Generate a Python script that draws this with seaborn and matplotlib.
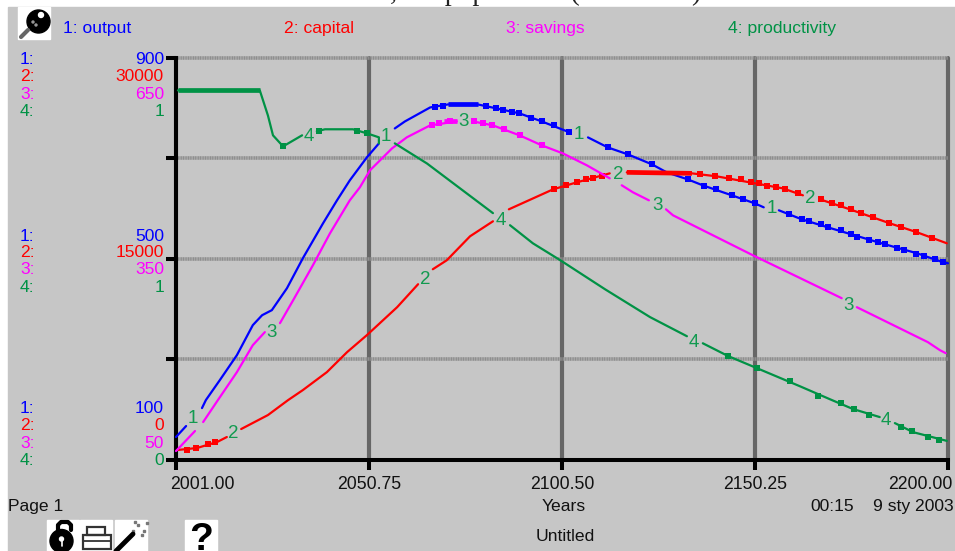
import pandas as pd
import seaborn as sns
import matplotlib.pyplot as plt
import matplotlib.transforms as mtrans
from matplotlib.patches import Rectangle, Ellipse

sns.set_theme(style="white")
plt.rcParams['font.family'] = ['Liberation Sans', 'DejaVu Sans']

# each curve is broken where a number label sits on it, so one list per piece
output_years = [[2001.0, 2003.6],
                [2007.7, 2008.7, 2012.3, 2016.7, 2020.8, 2023.2, 2025.7, 2029.6, 2033.7, 2038.9, 2042.5, 2045.8, 2050.2, 2053.3],
                [2057.4, 2060.0, 2066.5, 2071.1, 2078.8, 2083.7, 2089.6, 2095.3, 2102.5],
                [2107.2, 2112.3, 2117.5, 2123.7, 2127.5, 2132.9, 2136.8, 2144.3, 2150.2, 2152.5],
                [2156.4, 2162.3, 2169.0, 2176.8, 2183.7, 2192.0, 2198.7, 2200.0]]
output_vals = [[145.7, 167.5],
               [203.2, 219.1, 258.8, 308.4, 368.0, 387.8, 397.8, 441.4, 501.0, 570.4, 616.1, 655.8, 701.5, 729.2],
               [759.0, 772.9, 800.7, 806.7, 806.7, 798.7, 788.8, 772.9, 751.1],
               [741.2, 721.3, 707.4, 687.6, 671.7, 657.8, 645.9, 626.0, 610.1, 602.2],
               [596.3, 578.4, 562.5, 544.6, 528.8, 510.9, 493.0, 491.0]]

savings_years = [[2001.0, 2005.9],
                 [2008.0, 2011.8, 2016.7, 2020.8, 2023.9],
                 [2027.8, 2031.2, 2036.3, 2040.7, 2045.8, 2048.4, 2051.0, 2056.7, 2060.5, 2066.5, 2073.4],
                 [2077.5, 2082.7, 2089.6, 2095.3, 2100.7, 2106.9, 2112.8],
                 [2115.9, 2118.8, 2122.9],
                 [2127.3, 2129.1, 2149.7, 2172.6],
                 [2176.5, 2194.8, 2197.9, 2199.4]]
savings_vals = [[63.4, 93.2],
                [106.6, 139.3, 181.0, 221.2, 240.6],
                [254.0, 288.2, 340.4, 388.0, 437.1, 456.5, 481.8, 514.6, 531.0, 548.8, 554.8],
                [554.8, 548.8, 533.9, 519.0, 507.1, 489.3, 469.9],
                [459.5, 449.0, 437.1],
                [423.7, 414.8, 355.2, 291.2],
                [277.8, 225.7, 213.8, 209.3]]

capital_years = [[2001.3, 2006.4, 2011.6, 2014.1],
                 [2017.8, 2024.7, 2029.9, 2033.7, 2039.9, 2045.1, 2050.2, 2058.0, 2063.4],
                 [2067.2, 2070.8, 2076.8, 2082.7],
                 [2086.8, 2098.2, 2104.3, 2112.8],
                 [2117.2, 2134.0, 2140.4, 2148.9, 2157.4, 2162.6],
                 [2167.0, 2174.7, 2185.0, 2192.0, 2199.7]]
capital_vals = [[744, 893, 1340, 1712],
                [2308, 3350, 4466, 5211, 6551, 8040, 9305, 11389, 13101],
                [14218, 14888, 16675, 17791],
                [18684, 20173, 20694, 21364],
                [21439, 21364, 21141, 20694, 20248, 19727],
                [19429, 18684, 17642, 16972, 16153]]

productivity_years = [[2001.5, 2022.6, 2024.7, 2026.0, 2028.6, 2033.5],
                      [2037.3, 2039.4, 2046.6, 2050.2, 2053.3, 2053.3],
                      [2057.4, 2065.7, 2074.2, 2082.7],
                      [2087.1, 2093.0, 2100.0, 2111.6, 2123.2, 2132.7],
                      [2136.8, 2143.3, 2150.7, 2161.8, 2170.0, 2175.5, 2182.4],
                      [2186.3, 2191.0, 2199.7]]
productivity_vals = [[1.102, 1.102, 1.027, 0.968, 0.935, 0.968],
                     [0.980, 0.986, 0.986, 0.974, 0.962, 0.944],
                     [0.944, 0.884, 0.810, 0.736],
                     [0.700, 0.646, 0.596, 0.509, 0.426, 0.369],
                     [0.348, 0.310, 0.274, 0.220, 0.179, 0.152, 0.128],
                     [0.110, 0.083, 0.057]]

# the little square blobs on the curves
output_sq_years = [2067.7, 2069.8, 2080.9, 2083.5, 2085.3, 2087.6, 2089.4, 2092.5, 2095.3, 2098.4, 2102.3, 2112.3, 2117.5,
                   2123.7, 2132.9, 2137.1, 2140.2, 2144.3, 2147.1, 2150.2, 2159.0, 2162.3, 2164.1, 2167.2, 2169.0, 2172.4,
                   2174.9, 2176.5, 2179.6, 2181.9, 2183.7, 2186.8, 2188.6, 2191.7, 2193.8, 2196.6, 2198.7]
output_sq_vals = [800.7, 802.7, 802.7, 798.7, 794.8, 790.8, 788.8, 778.9, 772.9, 765.0, 751.1, 721.3, 707.4,
                  687.6, 657.8, 643.9, 637.9, 626.0, 618.1, 610.1, 588.3, 578.4, 574.4, 568.5, 562.5, 556.6,
                  548.6, 542.7, 536.7, 532.7, 528.8, 520.8, 516.9, 508.9, 504.9, 499.0, 493.0]
capital_sq_years = [2003.8, 2006.2, 2009.2, 2011.1, 2098.4, 2101.5, 2104.3, 2106.7, 2108.5, 2110.8, 2136.0, 2139.9, 2143.5,
                    2146.6, 2149.2, 2151.2, 2153.3, 2155.6, 2157.9, 2161.3, 2167.2, 2170.0, 2172.4, 2174.9, 2177.5, 2180.6,
                    2184.7, 2187.8, 2191.7, 2195.8]
capital_sq_vals = [744, 893, 1191, 1340, 20173, 20471, 20694, 20918, 20992, 21141, 21290, 21141, 20992,
                   20918, 20694, 20620, 20397, 20322, 20173, 19876, 19429, 19131, 18982, 18684, 18387, 18089,
                   17642, 17345, 16972, 16526]
savings_sq_years = [2067.0, 2068.8, 2071.6, 2077.8, 2080.1, 2082.4, 2085.5, 2089.6, 2095.3]
savings_sq_vals = [548.8, 551.8, 554.8, 554.8, 551.8, 548.8, 542.9, 533.9, 519.0]
productivity_sq_years = [2028.6, 2037.9, 2047.6, 2050.2, 2143.3, 2150.7, 2159.2, 2166.4, 2172.4, 2175.7, 2179.6, 2187.8,
                         2190.7, 2194.8, 2197.6]
productivity_sq_vals = [0.935, 0.980, 0.980, 0.974, 0.310, 0.274, 0.235, 0.191, 0.170, 0.152, 0.134, 0.098,
                        0.086, 0.068, 0.060]

# flat stretches that come out thick in the original
output_thick = ([2071.1, 2078.8], [806.7, 806.7])
capital_thick = ([2117.2, 2134.0], [21439, 21364])
savings_thick = ([2070.0, 2073.4], [554.8, 554.8])
productivity_thick = ([2001.5, 2022.6], [1.102, 1.102])

x_ticks = [2001.00, 2050.75, 2100.50, 2150.25, 2200.00]
x_labels = ['2001.00', '2050.75', '2100.50', '2150.25', '2200.00']
y_ticks = [0, 0.25, 0.5, 0.75, 1]

names = ['output', 'capital', 'savings', 'productivity']
colors = ['#0000FF', '#FF0000', '#FF00FF', '#009245']
scales = [(100, 900), (0, 30000), (50, 650), (0, 1.2)]
top_labels = ['900', '30000', '650', '1']
mid_labels = ['500', '15000', '350', '1']
low_labels = ['100', '0', '50', '0']

curve_labels = ['1', '2', '3', '4', '1', '3', '1', '2', '4', '2', '3', '4', '1', '2', '3', '4']
curve_label_years = [2005.4, 2015.7, 2025.7, 2035.3, 2055.1, 2075.2, 2104.9, 2114.9, 2084.8, 2065.2, 2125.0, 2134.5,
                     2154.6, 2164.6, 2174.4, 2184.0]
curve_label_frac = [.102, .065, .318, .804, .804, .841, .809, .710, .596, .449, .633, .293, .625, .650, .385, .097]

W, H = 955, 551
GRAY = '#C6C6C6'
FS = 12.6


def px(x, y):
    return x / W, 1 - y / H


fig = plt.figure(figsize=(W / 100, H / 100), dpi=100, facecolor='white')
fig.patches.append(Rectangle(px(8, H), (W - 8) / W, (H - 7) / H, transform=fig.transFigure, color=GRAY, zorder=-1))
# title of the page behind the panel, only its lower edge shows
fig.text(*px(272, 0.5), 'Scenario 6, the population (in billions)', family='Liberation Serif', fontsize=20,
         color='#222222', ha='left', va='baseline', zorder=-2)

ax = fig.add_axes([176 / W, 1 - 460 / H, (948 - 176) / W, (460 - 57.5) / H])
ax.patch.set_alpha(0)
ax.set_xlim(2001, 2200)
ax.set_ylim(0, 1)
ax.set_xticks(x_ticks)
ax.set_xticklabels(x_labels)
ax.set_yticks(y_ticks)
ax.set_yticklabels([])
sns.despine(ax=ax, top=True, right=True)
for s in ['left', 'bottom']:
    ax.spines[s].set_linewidth(2.9)
    ax.spines[s].set_color('black')
ax.tick_params(axis='both', length=7.4, width=2.9, color='black', left=True, bottom=True, labelsize=FS + 0.1,
               labelcolor='#111111', pad=4)
ax.xaxis.grid(True, color='#666666', lw=3, clip_on=False)
ax.yaxis.grid(True, color='#8E8E8E', lw=2.6, clip_on=False, ls=(0, (0.35, 0.12)))
ax.set_axisbelow(True)
lab = ax.get_xticklabels()
lab[0].set_ha('left')
lab[-1].set_ha('right')
for t in ax.xaxis.get_major_ticks():
    t.gridline.set_clip_on(False)
# push end labels to where they sit in the picture
lab[0].set_transform(lab[0].get_transform() + mtrans.ScaledTranslation(-6 / 100, 0, fig.dpi_scale_trans))
lab[-1].set_transform(lab[-1].get_transform() + mtrans.ScaledTranslation(4 / 100, 0, fig.dpi_scale_trans))

series = [
    (output_years, output_vals, output_sq_years, output_sq_vals, output_thick),
    (capital_years, capital_vals, capital_sq_years, capital_sq_vals, capital_thick),
    (savings_years, savings_vals, savings_sq_years, savings_sq_vals, savings_thick),
    (productivity_years, productivity_vals, productivity_sq_years, productivity_sq_vals, productivity_thick),
]
# every variable has its own y scale so each gets its own invisible twin axis
for k, (yrs, vals, sq_y, sq_v, thick) in enumerate(series):
    rows = [(y, v, i) for i, (ys, vs) in enumerate(zip(yrs, vals)) for y, v in zip(ys, vs)]
    df = pd.DataFrame(rows, columns=['year', 'value', 'piece'])
    tw = ax.twinx()
    tw.set_axis_off()
    sns.lineplot(data=df, x='year', y='value', units='piece', estimator=None, color=colors[k], lw=1.6, ax=tw,
                 legend=False, clip_on=False, sort=False)
    sns.lineplot(x=thick[0], y=thick[1], estimator=None, color=colors[k], lw=3.4, ax=tw, legend=False,
                 solid_capstyle='butt')
    sns.scatterplot(x=sq_y, y=sq_v, marker='s', s=19, color=colors[k], linewidth=0, ax=tw, legend=False)
    tw.set_ylim(*scales[k])
    tw.set_xlim(2001, 2200)

top = fig.add_axes(ax.get_position(), frameon=False)
top.set_xlim(2001, 2200)
top.set_ylim(0, 1)
top.set_axis_off()
for t, y, f in zip(curve_labels, curve_label_years, curve_label_frac):
    top.text(y, f, t, color='#129A50', fontsize=13.5, ha='center', va='center')

# legend row on top
for name, c, i, x in zip(names, colors, range(1, 5), [63, 284, 506, 728]):
    fig.text(*px(x, 33), f'{i}: {name}', color=c, fontsize=FS, ha='left', va='baseline')

# the stacked scale labels left of the axis
for rows_y, labels in [([64, 81, 99, 116], top_labels), ([241, 257, 274, 292], mid_labels),
                       ([413, 430, 448, 465], low_labels)]:
    for i, (yy, t) in enumerate(zip(rows_y, labels)):
        fig.text(*px(20, yy), f'{i + 1}:', color=colors[i], fontsize=FS, ha='left', va='baseline')
        fig.text(*px(164, yy), t, color=colors[i], fontsize=FS, ha='right', va='baseline')

txt = '#111111'
fig.text(*px(8, 511), 'Page 1', color=txt, fontsize=FS, va='baseline')
fig.text(*px(564, 511), 'Years', color=txt, fontsize=FS, ha='center', va='baseline')
fig.text(*px(810, 511), '00:15', color=txt, fontsize=FS, va='baseline')
fig.text(*px(954, 511), '9 sty 2003', color=txt, fontsize=FS, ha='right', va='baseline')
fig.text(*px(565, 541), 'Untitled', color=txt, fontsize=FS, ha='center', va='baseline')


# toolbar icons, roughly
def box(x, y, w, h, **kw):
    kw.setdefault('color', 'white')
    fig.add_artist(Rectangle(px(x, y + h), w / W, h / H, transform=fig.transFigure, **kw))


def disc(x, y, r, color):
    fig.add_artist(Ellipse(px(x, y), 2 * r / W, 2 * r / H, transform=fig.transFigure, color=color))


def stroke(points, color, lw):
    fig.add_artist(plt.Line2D(*zip(*[px(a, b) for a, b in points]), transform=fig.transFigure, color=color, lw=lw))


box(18, 7, 32, 32)
disc(38.5, 21.5, 11.5, 'black')
disc(41, 15, 2.5, 'white')
disc(33, 22, 1, '#999999')
disc(36, 25, 1, '#999999')
stroke([(28, 30), (21, 37)], '#666666', 3)

for x0 in [47, 80, 115, 185]:
    box(x0, 520, 32, 31)
# lock
disc(61.5, 541, 11.5, 'black')
disc(61.5, 539, 2, 'white')
stroke([(61.5, 539), (61.5, 546)], 'white', 1.2)
stroke([(58, 532), (58, 525), (61, 522), (68, 522), (71, 525), (71, 530)], 'black', 3)
# printer
box(87, 527, 18, 8, fill=False, ec='#333333', lw=1.6)
box(83, 535, 28, 14, fill=False, ec='#333333', lw=1.6)
stroke([(83, 541), (111, 541)], '#333333', 1.3)
# wand
stroke([(116, 551), (133, 534)], 'black', 3.5)
for dx, dy in [(137, 524), (143, 530), (134, 521), (146, 522), (141, 534), (132, 530)]:
    box(dx, dy, 2, 2, color='#777777')
fig.text(*px(201, 550.5), '?', color='black', fontsize=28, fontweight='bold', ha='center', va='baseline')

fig.savefig('out.png', dpi=100)
